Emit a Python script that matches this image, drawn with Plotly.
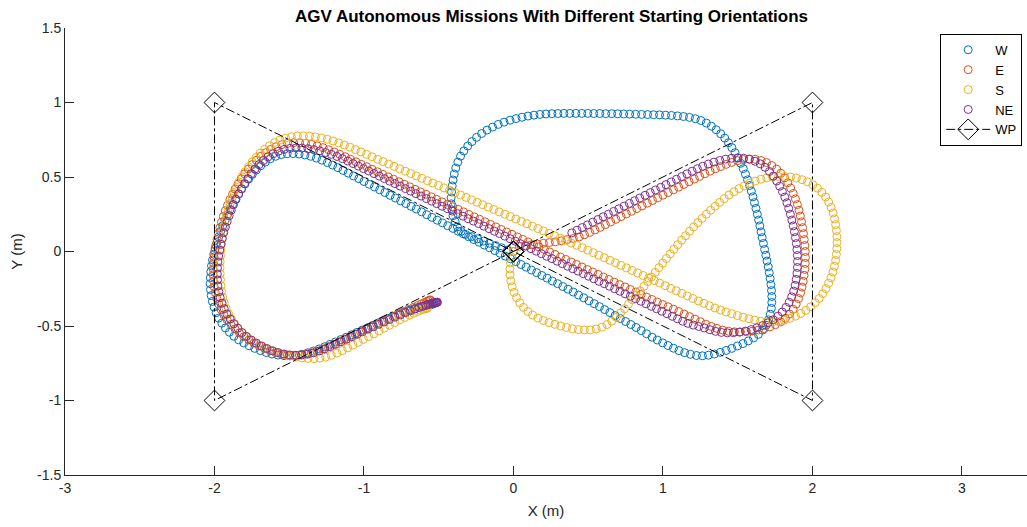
import plotly.graph_objects as go

# Logged AGV positions (x, y) in metres, one list per starting orientation
W_path = [
    (0.0, 0.0), (-0.04, 0.01), (-0.08, 0.025), (-0.12, 0.04), (-0.16, 0.055), (-0.2, 0.07), (-0.24, 0.085),
    (-0.28, 0.1), (-0.32, 0.115), (-0.35, 0.135),
    (-0.375, 0.165), (-0.39, 0.2), (-0.405, 0.24), (-0.412, 0.28), (-0.416, 0.32), (-0.417, 0.36),
    (-0.414, 0.4), (-0.41, 0.44), (-0.404, 0.48), (-0.396, 0.52), (-0.386, 0.56), (-0.372, 0.6),
    (-0.354, 0.64), (-0.332, 0.675), (-0.306, 0.708), (-0.278, 0.738), (-0.247, 0.766), (-0.213, 0.792),
    (-0.177, 0.815), (-0.14, 0.835), (-0.102, 0.853), (-0.063, 0.868), (-0.023, 0.881), (0.017, 0.892),
    (0.057, 0.901), (0.097, 0.909), (0.137, 0.915), (0.177, 0.92),
    (0.217, 0.923), (0.257, 0.925), (0.297, 0.926), (0.337, 0.927), (0.377, 0.927), (0.417, 0.927),
    (0.457, 0.927), (0.497, 0.927), (0.537, 0.926), (0.577, 0.926), (0.617, 0.925), (0.657, 0.925),
    (0.697, 0.924), (0.737, 0.923), (0.777, 0.922), (0.817, 0.921), (0.857, 0.92), (0.897, 0.919),
    (0.937, 0.918), (0.977, 0.917), (1.017, 0.915), (1.057, 0.913), (1.097, 0.91), (1.137, 0.906),
    (1.177, 0.9), (1.216, 0.891), (1.254, 0.879),
    (1.29, 0.862), (1.324, 0.841), (1.356, 0.817), (1.386, 0.79), (1.413, 0.761), (1.438, 0.73),
    (1.461, 0.697), (1.482, 0.663), (1.502, 0.628), (1.52, 0.592), (1.537, 0.556), (1.552, 0.519),
    (1.566, 0.481), (1.579, 0.443), (1.591, 0.405), (1.602, 0.367), (1.612, 0.328), (1.622, 0.289),
    (1.631, 0.25), (1.64, 0.211), (1.648, 0.172), (1.656, 0.132), (1.664, 0.093), (1.672, 0.054),
    (1.68, 0.014), (1.688, -0.025), (1.696, -0.064), (1.704, -0.103), (1.711, -0.143), (1.717, -0.182),
    (1.722, -0.222), (1.726, -0.262), (1.728, -0.302), (1.728, -0.342), (1.725, -0.382), (1.718, -0.421),
    (1.706, -0.459), (1.689, -0.495), (1.666, -0.528), (1.638, -0.556), (1.606, -0.58), (1.571, -0.6),
    (1.535, -0.618), (1.498, -0.634), (1.46, -0.65), (1.422, -0.664), (1.383, -0.677), (1.344, -0.688),
    (1.304, -0.696), (1.264, -0.7), (1.224, -0.698), (1.184, -0.69), (1.145, -0.679), (1.107, -0.665),
    (1.07, -0.649), (1.034, -0.631), (0.998, -0.613), (0.962, -0.594), (0.927, -0.575),
    (0.89, -0.552), (0.855, -0.531), (0.82, -0.51), (0.785, -0.49), (0.75, -0.47), (0.715, -0.45),
    (0.68, -0.43), (0.645, -0.41), (0.61, -0.39), (0.575, -0.37), (0.54, -0.35), (0.505, -0.331),
    (0.47, -0.311), (0.435, -0.292), (0.4, -0.272), (0.365, -0.253), (0.33, -0.235), (0.295, -0.216),
    (0.26, -0.198), (0.225, -0.179), (0.19, -0.161), (0.155, -0.142), (0.12, -0.124), (0.085, -0.105),
    (0.05, -0.087), (0.015, -0.068), (-0.02, -0.049), (-0.055, -0.031), (-0.09, -0.012), (-0.125, 0.006),
    (-0.16, 0.025), (-0.195, 0.043), (-0.23, 0.062), (-0.265, 0.08), (-0.3, 0.099), (-0.335, 0.118),
    (-0.37, 0.136), (-0.405, 0.155), (-0.44, 0.173), (-0.475, 0.192), (-0.51, 0.21), (-0.545, 0.229),
    (-0.58, 0.247), (-0.615, 0.266), (-0.65, 0.285), (-0.685, 0.303), (-0.72, 0.322), (-0.755, 0.34),
    (-0.79, 0.359), (-0.825, 0.377), (-0.86, 0.396), (-0.895, 0.414), (-0.93, 0.433), (-0.965, 0.451),
    (-1.0, 0.47), (-1.035, 0.489), (-1.07, 0.507), (-1.105, 0.526), (-1.14, 0.544), (-1.175, 0.563),
    (-1.21, 0.58),
    (-1.245, 0.597), (-1.281, 0.613), (-1.318, 0.627), (-1.356, 0.639), (-1.395, 0.648), (-1.434, 0.654),
    (-1.474, 0.657), (-1.514, 0.656), (-1.553, 0.65), (-1.591, 0.639), (-1.627, 0.622), (-1.66, 0.6),
    (-1.691, 0.575), (-1.72, 0.547), (-1.747, 0.517), (-1.772, 0.486), (-1.796, 0.454), (-1.818, 0.421),
    (-1.839, 0.387), (-1.859, 0.352), (-1.878, 0.317), (-1.896, 0.282), (-1.913, 0.246), (-1.93, 0.209),
    (-1.945, 0.172), (-1.959, 0.135), (-1.972, 0.097), (-1.984, 0.059), (-1.995, 0.021), (-2.005, -0.018),
    (-2.013, -0.057), (-2.02, -0.096), (-2.025, -0.136), (-2.028, -0.176), (-2.029, -0.216),
    (-2.027, -0.256), (-2.022, -0.296), (-2.014, -0.335), (-2.003, -0.373), (-1.989, -0.411),
    (-1.972, -0.447), (-1.951, -0.481), (-1.927, -0.513), (-1.9, -0.542), (-1.87, -0.569), (-1.838, -0.593),
    (-1.804, -0.614), (-1.768, -0.633), (-1.731, -0.65), (-1.693, -0.665), (-1.654, -0.678),
    (-1.615, -0.688), (-1.575, -0.695), (-1.535, -0.699), (-1.495, -0.7), (-1.455, -0.697), (-1.415, -0.69),
    (-1.376, -0.68), (-1.338, -0.668), (-1.3, -0.654), (-1.263, -0.639), (-1.227, -0.623), (-1.191, -0.607),
    (-1.155, -0.591), (-1.119, -0.575), (-1.083, -0.559), (-1.047, -0.543), (-1.011, -0.527),
    (-0.975, -0.511), (-0.939, -0.495), (-0.903, -0.479), (-0.867, -0.463), (-0.831, -0.448),
    (-0.795, -0.433), (-0.76, -0.418), (-0.726, -0.405), (-0.694, -0.393), (-0.664, -0.383),
    (-0.637, -0.375), (-0.613, -0.369), (-0.593, -0.364), (-0.576, -0.36), (-0.562, -0.357),
    (-0.551, -0.355), (-0.542, -0.353), (-0.535, -0.352),
]

E_path = [
    (0.0, 0.03), (0.04, 0.035), (0.08, 0.04), (0.12, 0.045), (0.16, 0.05), (0.2, 0.055), (0.24, 0.06),
    (0.28, 0.065), (0.32, 0.072), (0.36, 0.08), (0.4, 0.088), (0.44, 0.098), (0.475, 0.112),
    (0.51, 0.128), (0.545, 0.145), (0.58, 0.162), (0.615, 0.18), (0.65, 0.198), (0.685, 0.216),
    (0.72, 0.234), (0.755, 0.252), (0.79, 0.27), (0.825, 0.288), (0.86, 0.306), (0.895, 0.324),
    (0.93, 0.342), (0.965, 0.36), (1.0, 0.378), (1.035, 0.396), (1.07, 0.414), (1.105, 0.432),
    (1.14, 0.45), (1.175, 0.468), (1.21, 0.486), (1.245, 0.504), (1.28, 0.522), (1.315, 0.539),
    (1.35, 0.555), (1.386, 0.57), (1.423, 0.585), (1.46, 0.598), (1.498, 0.609), (1.537, 0.617),
    (1.577, 0.621), (1.617, 0.619), (1.656, 0.611), (1.693, 0.597), (1.728, 0.577), (1.76, 0.553),
    (1.788, 0.525), (1.813, 0.494), (1.835, 0.461), (1.854, 0.426), (1.871, 0.39), (1.886, 0.353),
    (1.899, 0.315), (1.91, 0.277), (1.919, 0.238), (1.927, 0.199), (1.934, 0.16), (1.94, 0.12),
    (1.945, 0.08), (1.949, 0.04), (1.952, 0.0), (1.953, -0.04), (1.952, -0.08), (1.949, -0.12),
    (1.944, -0.16), (1.938, -0.2), (1.93, -0.239), (1.92, -0.278), (1.907, -0.316), (1.891, -0.353),
    (1.871, -0.388), (1.847, -0.42), (1.819, -0.448), (1.787, -0.472), (1.752, -0.491), (1.715, -0.506),
    (1.677, -0.518), (1.638, -0.527), (1.598, -0.534), (1.558, -0.538), (1.518, -0.54), (1.478, -0.539),
    (1.438, -0.535), (1.399, -0.527), (1.361, -0.516), (1.323, -0.503), (1.286, -0.488), (1.25, -0.471),
    (1.214, -0.454), (1.178, -0.437), (1.142, -0.42), (1.106, -0.403), (1.07, -0.387), (1.034, -0.371),
    (0.998, -0.356),
    (0.962, -0.339), (0.926, -0.322), (0.89, -0.306), (0.854, -0.289), (0.818, -0.272), (0.782, -0.255),
    (0.746, -0.238), (0.71, -0.222), (0.674, -0.205), (0.638, -0.188), (0.602, -0.171), (0.566, -0.154),
    (0.53, -0.138), (0.494, -0.121), (0.458, -0.104), (0.422, -0.087), (0.386, -0.07), (0.35, -0.053),
    (0.314, -0.037), (0.278, -0.02), (0.242, -0.003), (0.206, 0.014), (0.17, 0.031), (0.134, 0.047),
    (0.098, 0.064), (0.062, 0.081), (0.026, 0.098), (-0.01, 0.115), (-0.046, 0.131), (-0.082, 0.148),
    (-0.118, 0.165), (-0.154, 0.182), (-0.19, 0.199), (-0.226, 0.216), (-0.262, 0.232), (-0.298, 0.249),
    (-0.334, 0.266), (-0.37, 0.283), (-0.406, 0.3), (-0.442, 0.316), (-0.478, 0.333), (-0.514, 0.35),
    (-0.55, 0.367), (-0.586, 0.384), (-0.622, 0.4), (-0.658, 0.417), (-0.694, 0.434), (-0.73, 0.451),
    (-0.766, 0.468), (-0.802, 0.485), (-0.838, 0.501), (-0.874, 0.518), (-0.91, 0.535), (-0.946, 0.552),
    (-0.982, 0.569), (-1.018, 0.585), (-1.054, 0.602), (-1.09, 0.619), (-1.126, 0.636),
    (-1.162, 0.652), (-1.199, 0.668), (-1.236, 0.683), (-1.274, 0.697), (-1.313, 0.709), (-1.352, 0.719),
    (-1.391, 0.726), (-1.431, 0.73), (-1.471, 0.73), (-1.511, 0.726), (-1.55, 0.717), (-1.588, 0.703),
    (-1.624, 0.685), (-1.658, 0.663), (-1.69, 0.639), (-1.72, 0.612), (-1.748, 0.583), (-1.774, 0.553),
    (-1.798, 0.521), (-1.821, 0.488), (-1.842, 0.454), (-1.862, 0.419), (-1.88, 0.383), (-1.897, 0.347),
    (-1.913, 0.31), (-1.928, 0.273), (-1.941, 0.235), (-1.953, 0.197), (-1.964, 0.159), (-1.974, 0.12),
    (-1.983, 0.081), (-1.991, 0.042), (-1.998, 0.003), (-2.003, -0.037), (-2.007, -0.077),
    (-2.009, -0.117), (-2.009, -0.157), (-2.007, -0.197), (-2.002, -0.237), (-1.995, -0.276),
    (-1.985, -0.315), (-1.972, -0.353), (-1.956, -0.39), (-1.937, -0.425), (-1.915, -0.459),
    (-1.89, -0.49), (-1.863, -0.519), (-1.834, -0.546), (-1.803, -0.571), (-1.77, -0.594),
    (-1.736, -0.615), (-1.701, -0.634), (-1.665, -0.651), (-1.628, -0.666), (-1.59, -0.679),
    (-1.551, -0.689), (-1.512, -0.695), (-1.472, -0.697), (-1.432, -0.695), (-1.392, -0.689),
    (-1.353, -0.68), (-1.315, -0.668), (-1.277, -0.654), (-1.24, -0.639), (-1.203, -0.623),
    (-1.167, -0.606), (-1.131, -0.589), (-1.095, -0.572), (-1.059, -0.555), (-1.023, -0.538),
    (-0.987, -0.521), (-0.951, -0.504), (-0.915, -0.487), (-0.879, -0.47), (-0.843, -0.453),
    (-0.807, -0.436), (-0.771, -0.42), (-0.736, -0.404), (-0.702, -0.389), (-0.67, -0.375),
    (-0.641, -0.363), (-0.616, -0.352), (-0.596, -0.343), (-0.581, -0.336), (-0.57, -0.331),
    (-0.562, -0.327), (-0.556, -0.325),
]

S_path = [
    (0.0, 0.0), (-0.012, -0.038), (-0.02, -0.077), (-0.024, -0.117), (-0.023, -0.157), (-0.018, -0.197),
    (-0.009, -0.236), (0.004, -0.274), (0.021, -0.31), (0.042, -0.344), (0.067, -0.375), (0.096, -0.403),
    (0.128, -0.427), (0.163, -0.447), (0.2, -0.463), (0.238, -0.477), (0.277, -0.489), (0.316, -0.5),
    (0.355, -0.51), (0.394, -0.518), (0.434, -0.524), (0.474, -0.527), (0.514, -0.526), (0.553, -0.52),
    (0.591, -0.508), (0.626, -0.49), (0.658, -0.467), (0.688, -0.441), (0.716, -0.413), (0.743, -0.384),
    (0.769, -0.354), (0.795, -0.324), (0.821, -0.294), (0.847, -0.264), (0.873, -0.233), (0.898, -0.202),
    (0.923, -0.171), (0.948, -0.14), (0.973, -0.109), (0.998, -0.078), (1.023, -0.047), (1.048, -0.016),
    (1.073, 0.015), (1.099, 0.046), (1.125, 0.076), (1.151, 0.106), (1.178, 0.136), (1.205, 0.165),
    (1.233, 0.194), (1.261, 0.222), (1.29, 0.25), (1.319, 0.277), (1.349, 0.304), (1.379, 0.33),
    (1.41, 0.355), (1.442, 0.379), (1.475, 0.401), (1.509, 0.422), (1.544, 0.441), (1.58, 0.458),
    (1.617, 0.473), (1.655, 0.485), (1.694, 0.494), (1.733, 0.5), (1.773, 0.503), (1.813, 0.503),
    (1.853, 0.5), (1.892, 0.493), (1.93, 0.482), (1.967, 0.467), (2.002, 0.448), (2.034, 0.425),
    (2.063, 0.397), (2.088, 0.366), (2.108, 0.332), (2.125, 0.296), (2.138, 0.258), (2.148, 0.219),
    (2.155, 0.18), (2.16, 0.14), (2.163, 0.1), (2.164, 0.06), (2.163, 0.02), (2.16, -0.02), (2.155, -0.06),
    (2.147, -0.099), (2.137, -0.138), (2.124, -0.176), (2.108, -0.213), (2.09, -0.249), (2.069, -0.283),
    (2.045, -0.315), (2.018, -0.344), (1.988, -0.371), (1.956, -0.395), (1.922, -0.416), (1.886, -0.434),
    (1.849, -0.449), (1.811, -0.461), (1.772, -0.47), (1.732, -0.474), (1.692, -0.473), (1.653, -0.468),
    (1.614, -0.46), (1.575, -0.451), (1.536, -0.441), (1.498, -0.43), (1.46, -0.418), (1.422, -0.406),
    (1.385, -0.393), (1.348, -0.379),
    (1.311, -0.364), (1.274, -0.348), (1.237, -0.332), (1.2, -0.315), (1.163, -0.298), (1.126, -0.281),
    (1.089, -0.264), (1.052, -0.247), (1.015, -0.23), (0.978, -0.212), (0.941, -0.195), (0.904, -0.178),
    (0.867, -0.161), (0.83, -0.144), (0.793, -0.127), (0.756, -0.11), (0.719, -0.093), (0.682, -0.076),
    (0.645, -0.059), (0.608, -0.042), (0.571, -0.025), (0.534, -0.008), (0.497, 0.009), (0.46, 0.025),
    (0.423, 0.041), (0.386, 0.057), (0.349, 0.074), (0.312, 0.09), (0.275, 0.106), (0.238, 0.122),
    (0.201, 0.138), (0.164, 0.154), (0.127, 0.17), (0.09, 0.186), (0.053, 0.202), (0.016, 0.218),
    (-0.021, 0.234), (-0.058, 0.25), (-0.095, 0.266), (-0.132, 0.282), (-0.169, 0.298), (-0.206, 0.314),
    (-0.243, 0.33), (-0.28, 0.347), (-0.317, 0.363), (-0.354, 0.379), (-0.391, 0.395), (-0.428, 0.411),
    (-0.465, 0.427), (-0.502, 0.443), (-0.539, 0.459), (-0.576, 0.475), (-0.613, 0.491), (-0.65, 0.507),
    (-0.687, 0.523), (-0.724, 0.539), (-0.761, 0.555), (-0.798, 0.571), (-0.835, 0.587), (-0.872, 0.603),
    (-0.909, 0.619), (-0.946, 0.636), (-0.983, 0.652), (-1.02, 0.668), (-1.057, 0.684), (-1.094, 0.7),
    (-1.131, 0.715), (-1.169, 0.729), (-1.207, 0.742), (-1.246, 0.753), (-1.285, 0.762), (-1.325, 0.769),
    (-1.365, 0.774), (-1.405, 0.776), (-1.445, 0.775), (-1.485, 0.77), (-1.524, 0.761), (-1.562, 0.748),
    (-1.598, 0.731), (-1.632, 0.71), (-1.664, 0.686), (-1.694, 0.66), (-1.722, 0.631), (-1.748, 0.601),
    (-1.772, 0.569), (-1.795, 0.536), (-1.816, 0.502), (-1.836, 0.467), (-1.853, 0.431), (-1.869, 0.395),
    (-1.883, 0.358), (-1.896, 0.321), (-1.908, 0.283), (-1.918, 0.245), (-1.927, 0.207), (-1.935, 0.168),
    (-1.942, 0.129), (-1.948, 0.09), (-1.953, 0.051), (-1.957, 0.011), (-1.96, -0.029), (-1.962, -0.069),
    (-1.963, -0.109), (-1.962, -0.149), (-1.96, -0.189), (-1.957, -0.229), (-1.952, -0.268),
    (-1.945, -0.307), (-1.935, -0.345), (-1.922, -0.382), (-1.906, -0.418), (-1.887, -0.452),
    (-1.866, -0.484), (-1.842, -0.515), (-1.814, -0.544), (-1.784, -0.571), (-1.752, -0.595),
    (-1.718, -0.616), (-1.683, -0.635), (-1.647, -0.652), (-1.61, -0.667), (-1.572, -0.68),
    (-1.533, -0.691), (-1.494, -0.7), (-1.455, -0.708), (-1.415, -0.714), (-1.375, -0.718),
    (-1.335, -0.719), (-1.295, -0.716), (-1.256, -0.709), (-1.218, -0.697), (-1.181, -0.682),
    (-1.145, -0.665), (-1.109, -0.647), (-1.074, -0.628), (-1.039, -0.609), (-1.004, -0.59),
    (-0.969, -0.571), (-0.934, -0.552), (-0.899, -0.533), (-0.864, -0.514), (-0.829, -0.495),
    (-0.794, -0.477), (-0.76, -0.459), (-0.727, -0.442), (-0.696, -0.427), (-0.668, -0.414),
    (-0.643, -0.403), (-0.622, -0.395), (-0.605, -0.389), (-0.592, -0.385), (-0.582, -0.382),
    (-0.575, -0.38),
]

NE_path = [
    (0.39, 0.125), (0.425, 0.143), (0.46, 0.161), (0.495, 0.179), (0.53, 0.197), (0.565, 0.215),
    (0.6, 0.233), (0.635, 0.251), (0.67, 0.269), (0.705, 0.287), (0.74, 0.305), (0.775, 0.323),
    (0.81, 0.341), (0.845, 0.359), (0.88, 0.377), (0.915, 0.395), (0.95, 0.413), (0.985, 0.431),
    (1.02, 0.449), (1.055, 0.467), (1.09, 0.485), (1.125, 0.503), (1.16, 0.521), (1.195, 0.539),
    (1.23, 0.556), (1.266, 0.572), (1.303, 0.587), (1.341, 0.6), (1.38, 0.611), (1.419, 0.62),
    (1.459, 0.626), (1.499, 0.628), (1.539, 0.626), (1.578, 0.619), (1.616, 0.606), (1.651, 0.588),
    (1.683, 0.565), (1.712, 0.537), (1.738, 0.506), (1.761, 0.473), (1.781, 0.438), (1.799, 0.402),
    (1.815, 0.365), (1.829, 0.327), (1.841, 0.289), (1.852, 0.25), (1.862, 0.211), (1.871, 0.172),
    (1.879, 0.133), (1.886, 0.093), (1.892, 0.053), (1.896, 0.013), (1.899, -0.027), (1.9, -0.067),
    (1.899, -0.107), (1.896, -0.147), (1.891, -0.187), (1.884, -0.227), (1.874, -0.266), (1.861, -0.304),
    (1.844, -0.341), (1.823, -0.375), (1.798, -0.406), (1.769, -0.434), (1.737, -0.458), (1.702, -0.479),
    (1.666, -0.497), (1.628, -0.512), (1.59, -0.524), (1.551, -0.534), (1.511, -0.541), (1.471, -0.545),
    (1.431, -0.546), (1.391, -0.543), (1.352, -0.536), (1.314, -0.525), (1.276, -0.513), (1.239, -0.503),
    (1.203, -0.494), (1.167, -0.482), (1.132, -0.468), (1.097, -0.452), (1.062, -0.435), (1.027, -0.418),
    (0.992, -0.401), (0.957, -0.384), (0.922, -0.368), (0.887, -0.351), (0.852, -0.334), (0.817, -0.317),
    (0.782, -0.3), (0.747, -0.284), (0.712, -0.267), (0.677, -0.25), (0.642, -0.233), (0.607, -0.216),
    (0.572, -0.2), (0.537, -0.183), (0.502, -0.166), (0.467, -0.149), (0.432, -0.132), (0.397, -0.116),
    (0.362, -0.099), (0.327, -0.082), (0.292, -0.065), (0.257, -0.048), (0.222, -0.032), (0.187, -0.015),
    (0.152, 0.002), (0.117, 0.019), (0.082, 0.036), (0.047, 0.052), (0.012, 0.069), (-0.023, 0.086),
    (-0.058, 0.103), (-0.093, 0.12), (-0.128, 0.136), (-0.163, 0.153), (-0.198, 0.17), (-0.233, 0.187),
    (-0.268, 0.204), (-0.303, 0.22), (-0.338, 0.237), (-0.373, 0.254), (-0.408, 0.271), (-0.443, 0.288),
    (-0.478, 0.304), (-0.513, 0.321), (-0.548, 0.338), (-0.583, 0.355), (-0.618, 0.372), (-0.653, 0.388),
    (-0.688, 0.405), (-0.723, 0.422), (-0.758, 0.439), (-0.793, 0.456), (-0.828, 0.472), (-0.863, 0.489),
    (-0.898, 0.506), (-0.933, 0.523), (-0.968, 0.54), (-1.003, 0.556), (-1.038, 0.573), (-1.073, 0.59),
    (-1.108, 0.607),
    (-1.144, 0.623), (-1.181, 0.638), (-1.219, 0.652), (-1.257, 0.664), (-1.296, 0.675), (-1.335, 0.684),
    (-1.375, 0.69), (-1.415, 0.694), (-1.455, 0.695), (-1.495, 0.692), (-1.534, 0.685), (-1.572, 0.673),
    (-1.608, 0.656), (-1.642, 0.635), (-1.673, 0.61), (-1.702, 0.583), (-1.729, 0.553), (-1.754, 0.522),
    (-1.777, 0.489), (-1.799, 0.455), (-1.819, 0.421), (-1.838, 0.386), (-1.856, 0.35), (-1.873, 0.314),
    (-1.888, 0.277), (-1.902, 0.24), (-1.915, 0.202), (-1.927, 0.164), (-1.938, 0.126), (-1.948, 0.087),
    (-1.957, 0.048), (-1.965, 0.009), (-1.972, -0.031), (-1.977, -0.071), (-1.98, -0.111),
    (-1.981, -0.151), (-1.98, -0.191), (-1.977, -0.231), (-1.971, -0.27), (-1.962, -0.309),
    (-1.95, -0.347), (-1.935, -0.384), (-1.917, -0.42), (-1.895, -0.453), (-1.871, -0.485),
    (-1.845, -0.515), (-1.817, -0.544), (-1.787, -0.57), (-1.755, -0.594), (-1.721, -0.615),
    (-1.686, -0.634), (-1.65, -0.651), (-1.613, -0.666), (-1.575, -0.678), (-1.536, -0.688),
    (-1.497, -0.694), (-1.457, -0.697), (-1.417, -0.695), (-1.377, -0.689), (-1.338, -0.68),
    (-1.3, -0.668), (-1.263, -0.654), (-1.226, -0.639), (-1.19, -0.623), (-1.154, -0.606),
    (-1.118, -0.589), (-1.082, -0.572), (-1.046, -0.555), (-1.01, -0.538), (-0.974, -0.521),
    (-0.938, -0.505), (-0.902, -0.489), (-0.866, -0.473), (-0.83, -0.457), (-0.794, -0.441),
    (-0.758, -0.426), (-0.723, -0.411), (-0.69, -0.398), (-0.659, -0.386), (-0.631, -0.376),
    (-0.607, -0.368), (-0.587, -0.361), (-0.57, -0.355), (-0.557, -0.351), (-0.547, -0.348),
    (-0.539, -0.346), (-0.532, -0.345), (-0.526, -0.344), (-0.521, -0.343), (-0.517, -0.342),
    (-0.514, -0.342), (-0.511, -0.341), (-0.509, -0.341),
]

# Waypoint route of the figure-eight mission
WP_x = [0, 2, 2, 0, -2, -2, 0]
WP_y = [0, 1, -1, 0, 1, -1, 0]

series_names = ["W", "E", "S", "NE"]
series_paths = [W_path, E_path, S_path, NE_path]
series_colors = ["#0072BD", "#D95319", "#EDB120", "#7E2F8E"]

x_ticks = [-3, -2, -1, 0, 1, 2, 3]
x_tick_text = ["-3", "-2", "-1", "0", "1", "2", "3"]
y_ticks = [-1.5, -1, -0.5, 0, 0.5, 1, 1.5]
y_tick_text = ["-1.5", "-1", "-0.5", "0", "0.5", "1", "1.5"]

FONT = "Liberation Sans, Arial, sans-serif"
AXIS_COLOR = "#262626"

fig = go.Figure()

for name, path, color in zip(series_names, series_paths, series_colors):
    xs = [p[0] for p in path]
    ys = [p[1] for p in path]
    fig.add_trace(go.Scatter(
        x=xs, y=ys, mode="markers", name=name,
        marker=dict(symbol="circle-open", size=8, color=color, line=dict(width=1, color=color)),
    ))

fig.add_trace(go.Scatter(
    x=WP_x, y=WP_y, mode="lines+markers", name="WP",
    line=dict(color="black", width=1, dash="dashdot"),
    marker=dict(symbol="diamond-open", size=16, color="black", line=dict(width=1, color="black")),
))

axis_common = dict(
    showline=True, linecolor=AXIS_COLOR, linewidth=1,
    ticks="inside", ticklen=9, tickwidth=1, tickcolor=AXIS_COLOR,
    showgrid=False, zeroline=False, mirror=False,
    tickfont=dict(family=FONT, size=14, color=AXIS_COLOR),
)

fig.update_layout(
    width=1027, height=527,
    margin=dict(l=65, r=0, t=28, b=52),
    paper_bgcolor="white", plot_bgcolor="white",
    font=dict(family=FONT, color=AXIS_COLOR),
    title=dict(
        text="AGV Autonomous Missions With Different Starting Orientations",
        x=0.537, xanchor="center", y=0.97, yanchor="middle",
        font=dict(family=FONT, size=17, color="black", weight="bold"),
    ),
    xaxis=dict(
        range=[-3, 3.435], tickvals=x_ticks, ticktext=x_tick_text,
        title=dict(text="X (m)", font=dict(family=FONT, size=15, color=AXIS_COLOR), standoff=10),
        **axis_common,
    ),
    yaxis=dict(
        range=[-1.5, 1.5], tickvals=y_ticks, ticktext=y_tick_text,
        title=dict(text="Y (m)", font=dict(family=FONT, size=15, color=AXIS_COLOR), standoff=10),
        **axis_common,
    ),
    legend=dict(
        x=0.995, y=0.987, xanchor="right", yanchor="top",
        bordercolor="black", borderwidth=1, bgcolor="white",
        font=dict(family=FONT, size=13, color="black"),
        tracegroupgap=0, itemwidth=44,
    ),
    showlegend=True,
)

fig.write_html("out.html")
